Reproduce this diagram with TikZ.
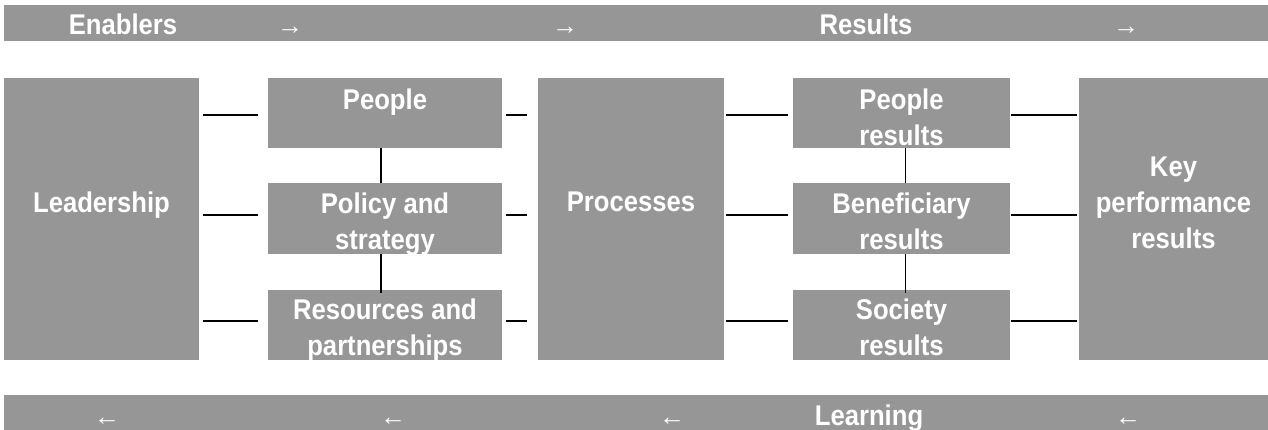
\documentclass[tikz,border=0pt]{standalone}
\usepackage{fontspec}
\setmainfont{Liberation Sans}
\newfontfamily\narrowsans[FakeStretch=0.9]{Liberation Sans}
\begin{document}
\begin{tikzpicture}[x=1pt,y=-1pt]
\definecolor{boxgrey}{RGB}{150,150,150}
\tikzset{
  panel/.style={fill=boxgrey, draw=none, inner sep=0pt},
  lbl/.style={text=white, font=\narrowsans\bfseries\fontsize{28.5}{36}\selectfont, align=center, inner sep=0pt, anchor=north},
  arr/.style={text=white, font=\fontsize{26}{30}\selectfont, inner sep=0pt, anchor=base},
  bartxt/.style={text=white, font=\narrowsans\bfseries\fontsize{28.5}{30}\selectfont, inner sep=0pt, anchor=base},
  hlink/.style={draw=black, line width=2.4pt},
  vlink/.style={draw=black, line width=1.6pt}
}
\useasboundingbox (0,0) rectangle (1268,430);

% bands across the top and bottom
\node[panel, minimum width=1264pt, minimum height=36pt] (topbar) at (636,23) {};
\node[panel, minimum width=1264pt, minimum height=35pt] (botbar) at (636,412.5) {};

% main blocks
\node[panel, minimum width=195pt, minimum height=282pt] (lead) at (101.5,219) {};
\node[panel, minimum width=234pt, minimum height=70pt] (people) at (385,113) {};
\node[panel, minimum width=234pt, minimum height=71pt] (policy) at (385,218.5) {};
\node[panel, minimum width=234pt, minimum height=70pt] (res) at (385,325) {};
\node[panel, minimum width=186pt, minimum height=282pt] (proc) at (631,219) {};
\node[panel, minimum width=217pt, minimum height=70pt] (pres) at (901.5,113) {};
\node[panel, minimum width=217pt, minimum height=71pt] (bres) at (901.5,218.5) {};
\node[panel, minimum width=217pt, minimum height=70pt] (sres) at (901.5,325) {};
\node[panel, minimum width=189pt, minimum height=282pt] (kpr) at (1173.5,219) {};

% block labels
\node[lbl] (tlead) at (lead.center |- 0,192) {Leadership};
\node[lbl] (tpeople) at (people.center |- 0,89) {People};
\node[lbl] (tpolicy) at (policy.center |- 0,193) {Policy and\\strategy};
\node[lbl] (tres) at (res.center |- 0,299) {Resources and\\partnerships};
\node[lbl] (tproc) at (proc.center |- 0,192) {Processes};
\node[lbl] (tpres) at (pres.center |- 0,89) {People\\results};
\node[lbl] (tbres) at (bres.center |- 0,193) {Beneficiary\\results};
\node[lbl] (tsres) at (sres.center |- 0,299) {Society\\results};
\node[lbl] (tkpr) at (kpr.center |- 0,157) {Key\\performance\\results};

% band texts
\node[bartxt] (enab) at (123,35) {Enablers};
\node[arr] (ta1) at (290,35) {→};
\node[arr] (ta2) at (565,35) {→};
\node[bartxt] (resl) at (866,35) {Results};
\node[arr] (ta3) at (1126,35) {→};
\node[arr] (ba1) at (107,425) {←};
\node[arr] (ba2) at (393,425) {←};
\node[arr] (ba3) at (672,425) {←};
\node[bartxt] (learn) at (869,425) {Learning};
\node[arr] (ba4) at (1128,425) {←};

% rows of the horizontal links
\coordinate (r1) at (0,115);
\coordinate (r2) at (0,215);
\coordinate (r3) at (0,321);

\foreach \r/\a/\b in {r1/people/pres, r2/policy/bres, r3/res/sres}{
  \draw[hlink] ([xshift=4pt]lead.east |- \r) -- ([xshift=-10pt]\a.west |- \r);
  \draw[hlink] ([xshift=4pt]\a.east |- \r) -- ([xshift=-11pt]proc.west |- \r);
  \draw[hlink] ([xshift=2pt]proc.east |- \r) -- ([xshift=-5pt]\b.west |- \r);
  \draw[hlink] ([xshift=1pt]\b.east |- \r) -- ([xshift=-2pt]kpr.west |- \r);
}

% vertical links inside the two stacked columns
\draw[vlink] ([xshift=-4pt]people.south) -- ([xshift=-4pt]policy.north);
\draw[vlink] ([xshift=-4pt]policy.south) -- ([shift={(-4pt,-3pt)}]res.north);
\draw[vlink] ([xshift=4pt]pres.south) -- ([xshift=4pt]bres.north);
\draw[vlink] ([xshift=4pt]bres.south) -- ([shift={(4pt,-3pt)}]sres.north);
\end{tikzpicture}
\end{document}
